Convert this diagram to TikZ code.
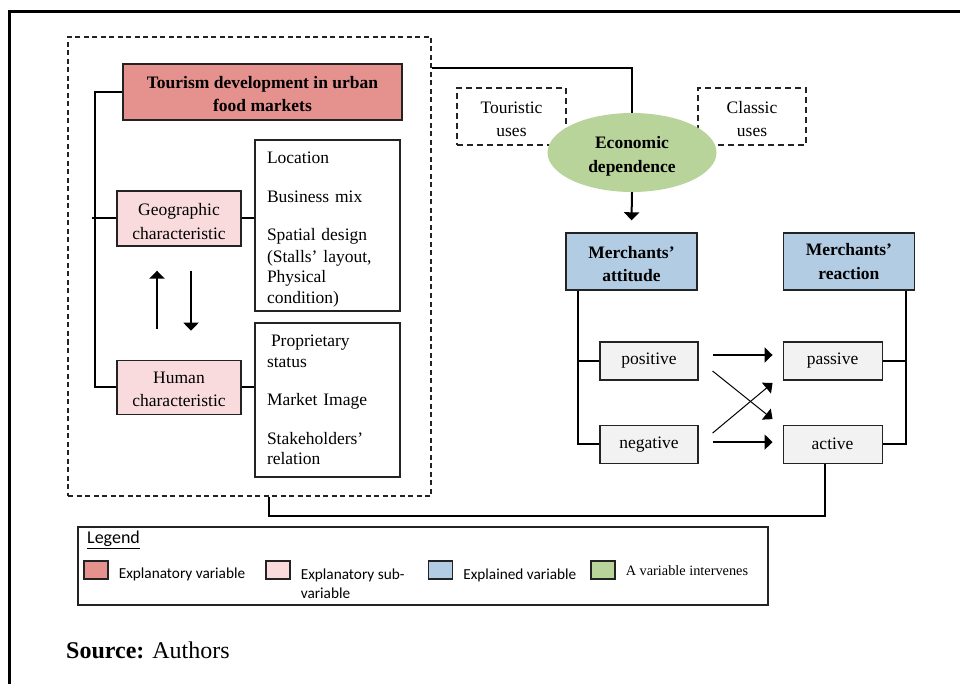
\documentclass[tikz,border=0pt]{standalone}
\usepackage{fontspec}
\setmainfont{Liberation Serif}
\newfontfamily\legendsans{Carlito}
\usetikzlibrary{
  arrows.meta,
  positioning,
  shapes.geometric
}
\definecolor{mktred}{RGB}{229,146,143}
\definecolor{mktpink}{RGB}{249,219,221}
\definecolor{mktblue}{RGB}{178,204,228}
\definecolor{mktgreen}{RGB}{185,212,154}
\definecolor{mktgray}{RGB}{242,242,242}
\definecolor{mktline}{RGB}{35,35,35}
\tikzset{
  txt/.style={font=\fontsize{17.5}{23.5}\selectfont},
  txtB/.style={font=\fontsize{17.5}{23.5}\selectfont\bfseries},
  varbox/.style={
    rectangle, draw=mktline, line width=1.4pt, align=center,
    inner sep=2pt, txt
  },
  explbox/.style={varbox, fill=mktred, txtB},
  subbox/.style={
    varbox, fill=mktpink, minimum width=124pt, minimum height=55pt
  },
  outbox/.style={
    varbox, fill=mktblue, txtB, minimum width=131pt, minimum height=57pt
  },
  valbox/.style={
    varbox, fill=mktgray, line width=1.1pt,
    minimum width=98pt, minimum height=38pt
  },
  itembox/.style={
    rectangle, draw=mktline, line width=1.4pt, align=left,
    text width=121pt, inner xsep=12pt, inner ysep=0pt,
    font=\fontsize{17.5}{20.5}\selectfont
  },
  usesbox/.style={
    rectangle, draw=mktline, line width=1.1pt, dash pattern=on 6pt off 4pt,
    minimum width=109pt, minimum height=57pt, align=center, txt
  },
  ecobubble/.style={
    ellipse, fill=mktgreen, minimum width=169pt, minimum height=79pt,
    align=center, inner sep=0pt, txtB
  },
  groupframe/.style={
    rectangle, draw=mktline, line width=1.1pt, dash pattern=on 5pt off 3.5pt
  },
  bracket/.style={line width=2pt},
  arrow/.style={-{Triangle[length=8pt,width=15pt]}, line width=2pt},
  thinarrow/.style={-{Triangle[length=8pt,width=14pt]}, line width=1pt},
  swatch/.style={
    rectangle, draw=mktline, line width=1.2pt,
    minimum width=24pt, minimum height=18pt, inner sep=0pt
  },
  legtext/.style={
    font=\legendsans\fontsize{15.3}{19}\selectfont, align=left, inner sep=0pt
  }
}
\newcommand{\toppad}[1]{\rule{0pt}{#1}}

\begin{document}
\begin{tikzpicture}[x=1pt, y=-1pt, node distance=10pt]
  \useasboundingbox (0,0) rectangle (960,684);
  \draw[line width=3pt] (9,684) -- (9,12) -- (960,12);

  \node[groupframe, minimum width=363pt, minimum height=459pt]
    (devframe) at (249.5,266.5) {};
  \node[explbox, minimum width=279pt, minimum height=56pt]
    (tourism) at (262.5,92) {\toppad{16pt}Tourism development in urban\\food markets};
  \node[subbox] (geo) at (179,218.5) {\toppad{18pt}Geographic\\characteristic};
  \node[subbox, minimum height=54pt, below=113pt of geo]
    (human) {\toppad{15pt}Human\\characteristic};
  \node[itembox, minimum height=171pt] (spatial) at (327.5,225.5)
    {\toppad{20pt}Location\\[18pt]Business mix\\[18pt]Spatial design\\[1pt](Stalls’ layout,\\Physical\\condition)};
  \node[itembox, minimum height=154pt] (social) at (327.5,400)
    {\hspace{4pt}Proprietary\\status\\[18pt]Market Image\\[18pt]Stakeholders’\\relation};

  \node[usesbox] (touristic) at (511.5,116.5) {\toppad{17pt}Touristic\\uses};
  \node[usesbox, minimum width=108pt] (classic) at (752,116.5) {\toppad{17pt}Classic\\uses};
  \node[ecobubble] (econ) at (632,152.5) {\toppad{20pt}Economic\\dependence};

  \node[outbox] (attitude) at (631.5,261.5) {\toppad{17pt}Merchants’\\attitude};
  \node[outbox, right=85pt of attitude] (reaction) {Merchants’\\reaction};
  \node[valbox] (positive) at (649,361) {positive};
  \node[valbox, below=44pt of positive] (negative) {negative};
  \node[valbox, minimum width=99pt, right=84pt of positive] (passive) {passive};
  \node[valbox, minimum width=99pt, below=44pt of passive] (active) {active};

  \draw[bracket] (tourism.west) -- ++(-27,0) |- (human.west);
  \draw[bracket] (geo.west) -- ++(-24,0);
  \draw[bracket] (geo.east) -- (geo.east -| spatial.west);
  \draw[bracket] (human.east) -- (human.east -| social.west);
  \draw[arrow] ([xshift=-22pt,yshift=31pt]human.north) -- ([xshift=-22pt,yshift=-24pt]geo.south);
  \draw[arrow] ([xshift=12pt,yshift=-24pt]geo.south) -- ([xshift=12pt,yshift=29pt]human.north);

  \draw[bracket] ([yshift=-32pt]devframe.north east) -| (econ.north);
  \draw[arrow] (econ.south) -- ([yshift=12pt]attitude.north);
  \draw[bracket] ([xshift=13pt]attitude.south west) |- (negative.west);
  \draw[bracket] (positive.west) -- ++(-21,0);
  \draw[bracket] ([xshift=-9pt]reaction.south east) |- (active.east);
  \draw[bracket] (passive.east) -- ++(23,0);

  \draw[arrow] ([xshift=14pt,yshift=6pt]positive.east) -- ([xshift=-10pt,yshift=6pt]passive.west);
  \draw[arrow] ([xshift=14pt,yshift=2pt]negative.east) -- ([xshift=-10pt,yshift=2pt]active.west);
  \draw[thinarrow] ([xshift=14pt,yshift=-10pt]positive.east) -- ([xshift=-10pt,yshift=25pt]active.west);
  \draw[thinarrow] ([xshift=14pt,yshift=11pt]negative.east) -- ([xshift=-10pt,yshift=-22pt]passive.west);
  \draw[bracket] ([xshift=19.5pt]devframe.south) -- ++(0,19) -| ([xshift=-7.5pt]active.south);

  \node[rectangle, draw=mktline, line width=1.2pt, minimum width=690pt, minimum height=78pt]
    (legend) at (423,566) {};
  \node[legtext, anchor=west, font=\legendsans\fontsize{18}{20}\selectfont]
    (legtitle) at (87,540) {\underline{Legend}};
  \node[swatch, fill=mktred] (swred) at (96,570) {};
  \node[legtext, right=10pt of swred, yshift=-4pt] (labred) {Explanatory variable};
  \node[swatch, fill=mktpink] (swpink) at (278,570) {};
  \node[legtext, right=10pt of swpink, yshift=-13.5pt] (labpink) {Explanatory sub-\\variable};
  \node[swatch, fill=mktblue] (swblue) at (440.5,570) {};
  \node[legtext, right=10pt of swblue, yshift=-5pt] (labblue) {Explained variable};
  \node[swatch, fill=mktgreen] (swgreen) at (603,570) {};
  \node[legtext, right=10pt of swgreen, yshift=-1pt, font=\fontsize{14.3}{17}\selectfont]
    (labgreen) {A variable intervenes};

  \node[anchor=west, inner sep=0pt, font=\fontsize{24}{28}\selectfont]
    (source) at (66,650) {\textbf{Source:} Authors};
\end{tikzpicture}
\end{document}
